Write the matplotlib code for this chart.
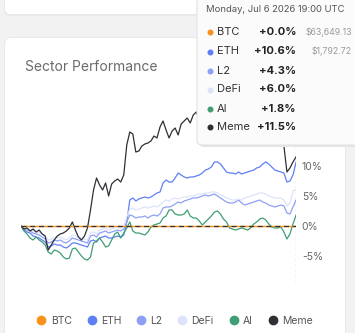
import numpy as np
import matplotlib.pyplot as plt
from matplotlib.patches import FancyBboxPatch
from matplotlib.lines import Line2D
from matplotlib.transforms import Affine2D

plt.rcParams['font.family'] = ['Inter', 'DejaVu Sans']

W, H = 355, 333  # dimensioni in pixel

# dati (variazione % rispetto all'inizio)
sectors = ['BTC', 'ETH', 'L2', 'DeFi', 'AI', 'Meme']
colors = ['#f7931a', '#5f7ff6', '#8ea0f3', '#dde3fb', '#3f9e73', '#2e3035']
last_change = ['+0.0%', '+10.6%', '+4.3%', '+6.0%', '+1.8%', '+11.5%']
last_price = ['$63,649.13', '$1,792.72', '', '', '', '']
tooltip_time = 'Monday, Jul 6 2026 19:00 UTC'
yticks = [-5, 0, 5, 10]

btc = [0.0] * 92  # benchmark, sempre piatto

eth = [0.0, -0.67, -1.0, -1.17, -1.67, -1.83, -2.0, -2.33, -2.67, -3.5,
       -3.33, -3.0, -3.17, -3.17, -3.5, -3.67, -3.33, -2.83, -2.83, -3.0,
       -3.17, -3.33, -3.5, -2.5, -2.33, -2.67, -2.0, -1.83, -1.67, -2.0,
       -2.0, -1.83, -1.67, -1.83, -1.5, 0.67, 4.33, 4.67, 4.17, 4.5,
       4.67, 4.83, 4.67, 4.83, 5.17, 5.5, 5.67, 7.17, 7.67, 7.33,
       7.33, 8.0, 8.83, 8.5, 8.17, 8.0, 8.17, 8.17, 8.33, 8.5,
       8.83, 9.33, 9.5, 9.83, 10.67, 10.67, 10.33, 9.67, 9.0, 8.83,
       8.83, 8.67, 9.0, 8.67, 8.83, 9.0, 9.17, 9.33, 9.67, 9.83,
       10.33, 10.67, 10.33, 9.83, 9.33, 9.17, 9.0, 8.83, 7.33, 7.5,
       8.5, 10.6]

l2 = [0.0, -0.5, -0.67, -0.83, -1.17, -1.33, -1.5, -1.83, -2.17, -2.83,
      -2.67, -2.33, -2.5, -2.33, -2.67, -2.83, -2.5, -2.0, -2.17, -2.33,
      -2.5, -2.67, -2.83, -1.67, -1.5, -1.83, -1.17, -1.0, -0.83, -1.17,
      -1.0, -0.83, -0.67, -0.83, -0.5, 0.67, 1.83, 1.67, 1.33, 1.5,
      1.5, 1.67, 1.33, 1.67, 1.83, 1.67, 2.0, 3.0, 3.17, 3.17,
      3.33, 3.67, 4.0, 3.83, 4.17, 4.33, 4.5, 4.67, 4.67, 4.83,
      5.0, 5.17, 5.0, 5.17, 5.33, 5.0, 4.67, 4.33, 4.0, 3.83,
      3.83, 4.0, 4.33, 3.83, 3.5, 3.67, 3.83, 4.0, 4.17, 4.33,
      4.0, 3.83, 3.5, 3.33, 3.17, 3.33, 3.5, 3.33, 2.17, 2.0,
      3.17, 4.3]

defi = [0.0, -0.33, -0.5, -0.67, -0.83, -1.0, -1.17, -1.33, -1.67, -2.33,
        -2.17, -1.83, -2.0, -1.83, -2.17, -2.33, -2.0, -1.5, -1.67, -1.83,
        -2.0, -2.17, -2.33, -1.17, -1.0, -1.33, -0.67, -0.5, -0.33, -0.67,
        -0.5, -0.33, -0.17, -0.33, 0.0, 1.5, 2.83, 3.0, 2.67, 2.83,
        3.0, 3.17, 3.0, 3.17, 3.33, 3.17, 3.5, 4.0, 4.33, 4.17,
        4.5, 4.67, 4.5, 4.67, 4.83, 4.83, 5.0, 5.0, 5.17, 5.33,
        5.33, 5.5, 5.5, 5.67, 5.67, 5.5, 5.17, 5.0, 4.67, 4.5,
        4.33, 4.33, 4.5, 4.33, 4.67, 4.83, 5.0, 5.17, 5.33, 5.5,
        5.5, 5.33, 5.0, 4.83, 4.67, 4.67, 4.67, 4.33, 3.33, 3.83,
        5.83, 6.0]

ai = [0.0, -0.83, -1.33, -2.0, -2.33, -1.83, -2.33, -2.67, -3.17, -4.33,
      -4.67, -4.0, -4.17, -4.5, -5.17, -5.5, -5.33, -3.83, -3.67, -4.33,
      -5.0, -5.5, -5.67, -5.17, -2.83, -2.5, -2.0, -2.67, -3.5, -3.33,
      -2.33, -1.33, -1.0, -2.0, -1.17, -0.33, 0.67, -0.83, -1.17, -1.17,
      -1.33, -1.5, -1.0, -0.17, 0.17, 0.33, 0.5, 1.33, 1.67, 2.67,
      2.67, 2.0, 1.83, 1.83, 2.0, 2.67, 1.67, 1.33, 1.33, 0.83,
      0.17, 0.67, 1.17, 1.67, 2.33, 2.5, 2.0, 1.17, 0.67, -0.33,
      -0.5, -0.67, -0.5, -0.33, -0.5, -0.67, -0.33, 0.33, 0.67, 1.17,
      1.33, 1.0, 0.33, -0.17, -0.33, -0.33, -0.17, -1.0, -2.17, -1.33,
      0.33, 1.8]

meme = [0.0, -0.5, -0.33, -0.83, -0.5, -1.0, -0.67, -1.33, -1.67, -4.0,
        -3.17, -2.33, -1.67, -1.33, -1.17, -0.83, -0.33, 0.67, -0.67, -1.83,
        -2.33, -1.67, -0.33, 2.67, 6.0, 8.0, 6.83, 6.0, 7.17, 5.0,
        7.0, 7.5, 7.83, 7.33, 8.5, 13.5, 15.67, 15.33, 12.33, 12.5,
        13.33, 13.67, 13.83, 14.17, 15.0, 14.67, 16.5, 17.5, 16.0, 14.67,
        15.83, 16.33, 15.17, 17.0, 17.5, 18.0, 17.17, 18.5, 19.0, 17.83,
        18.17, 17.33, 18.5, 18.17, 19.0, 17.67, 16.83, 18.0, 17.33, 16.33,
        17.0, 16.0, 15.0, 13.33, 14.33, 15.67, 16.33, 16.83, 16.0, 16.5,
        17.33, 16.33, 15.5, 16.0, 15.17, 14.67, 14.33, 13.33, 9.0, 9.67,
        10.67, 11.5]

series = [btc, eth, l2, defi, ai, meme]

# trasformazione in pixel con origine in alto a sinistra
fig = plt.figure(figsize=(W / 100, H / 100), dpi=100, facecolor='#f2f2f2')
pix = Affine2D().scale(1, -1).translate(0, H).scale(1 / 100) + fig.dpi_scale_trans


def card(x, y, w, h, fc, ec='none', z=-5, r=6):
    p = FancyBboxPatch((x, y), w, h, boxstyle=f'round,pad=0,rounding_size={r}',
                       transform=pix, facecolor=fc, edgecolor=ec, lw=0.8, zorder=z)
    fig.add_artist(p)


# schede di sfondo
card(4, -20, 342, 36, '#e9e9e9', z=-6)
card(5, -20, 340, 34, 'white')
card(4, 37, 342, 310, '#e9e9e9', z=-6)
card(5, 38, 340, 310, 'white')

fig.text(25, 67, 'Sector Performance', transform=pix, fontsize=10,
         color='#6b6b6b', va='center', ha='left')

# area del grafico
ax = fig.add_axes([21 / W, 1 - 283 / H, 275 / W, 183 / H])
ax.patch.set_alpha(0)
x = np.arange(len(meme))
for s, c in zip(series, colors):
    ax.plot(x, s, color=c, lw=0.9, zorder=3)
ax.axhline(0, color='#333333', lw=0.9, dashes=(4, 3), zorder=3.5)
ax.plot(x, btc, color=colors[0], lw=0.9, zorder=3.2)
ax.axvline(x[-1], color='#3d5a6c', lw=0.8, dashes=(2.5, 2.5), zorder=4)

ax.set_xlim(0, len(meme) - 1)
ax.set_ylim(-9.5, 21)
ax.yaxis.tick_right()
ax.set_yticks(yticks)
ax.set_yticklabels([f'{v}%' for v in yticks])
ax.tick_params(axis='y', length=0, pad=4.2, labelsize=7.5, labelcolor='#666666')
ax.set_xticks([])
for sp in ax.spines.values():
    sp.set_visible(False)

# legenda in basso
handles = [Line2D([], [], marker='o', linestyle='', color=c, markersize=6) for c in colors]
fig.legend(handles, sectors, loc='center', bbox_to_anchor=(175 / W, 1 - 321 / H),
           ncol=6, frameon=False, fontsize=7.5, labelcolor='#555555',
           handlelength=0.8, handletextpad=0.5, columnspacing=1.5)

# tooltip
card(199, -10, 170, 157, '#e6e6e6', z=9, r=5)
card(197, -10, 170, 155, '#fbfbfb', ec='#e2e2e2', z=10, r=5)
fig.text(206, 10, tooltip_time, transform=pix, fontsize=6.8, color='#555555',
         va='center', zorder=11)
rows_y = [32, 51.5, 70.5, 89.5, 108.5, 127]
for yy, name, c, chg, price in zip(rows_y, sectors, colors, last_change, last_price):
    fig.add_artist(Line2D([209.5], [yy], marker='o', markersize=3.3, color=c,
                          transform=pix, zorder=11))
    fig.text(216.5, yy, name, transform=pix, fontsize=8, color='#333333',
             va='center', zorder=11)
    fig.text(296, yy, chg, transform=pix, fontsize=8, fontweight='bold',
             color='#222222', va='center', ha='right', zorder=11)
    if price:
        fig.text(352, yy, price, transform=pix, fontsize=6.3, color='#9a9a9a',
                 va='center', ha='right', zorder=11)

fig.savefig('out.png', dpi=100, facecolor=fig.get_facecolor())
